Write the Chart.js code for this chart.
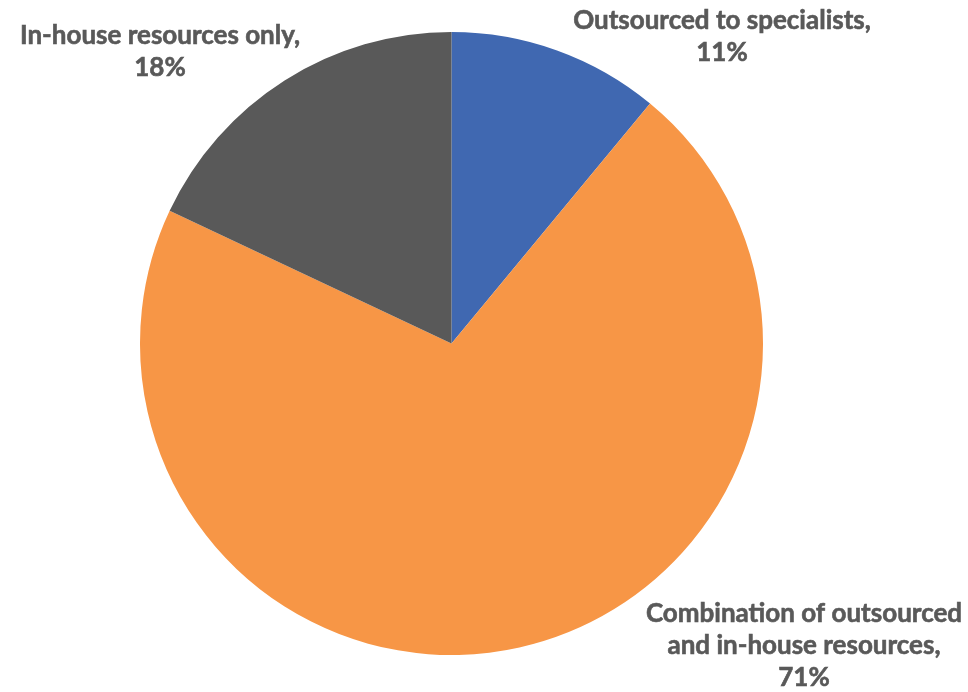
<!DOCTYPE html>
<html>
<head>
<meta charset="utf-8">
<script src="https://cdn.jsdelivr.net/npm/chart.js@4/dist/chart.umd.min.js"></script>
<style>
html,body{margin:0;padding:0;background:#fff;}
#wrap{width:968px;height:692px;position:relative;}
</style>
</head>
<body>
<div id="wrap"><canvas id="c" width="968" height="692"></canvas></div>
<script>
const categories = ["Outsourced to specialists", "Combination of outsourced and in-house resources", "In-house resources only"];
const values = [11, 71, 18];
const valueLabels = ["11%", "71%", "18%"];
const labelLines = [
  ["Outsourced to specialists,", "11%"],
  ["Combination of outsourced", "and in-house resources,", "71%"],
  ["In-house resources only,", "18%"]
];
const colors = ["#4068B1", "#F79646", "#595959"];

// label placement (layout only): centre x and first-line y
const labelPos = [
  {x: 722, y: 21},
  {x: 804, y: 614},
  {x: 160, y: 36}
];

const labelPlugin = {
  id: 'sliceLabels',
  afterDatasetsDraw(chart) {
    const ctx = chart.ctx;
    ctx.save();
    ctx.fillStyle = '#595959';
    ctx.font = 'bold 26px Lato, "Open Sans", sans-serif';
    ctx.textAlign = 'center';
    ctx.textBaseline = 'middle';
    ctx.strokeStyle = '#595959';
    ctx.lineWidth = 0.6;
    labelLines.forEach((lines, i) => {
      const p = labelPos[i];
      lines.forEach((t, j) => {
        ctx.fillText(t, p.x, p.y + j * 32);
        ctx.strokeText(t, p.x, p.y + j * 32);
      });
    });
    ctx.restore();
  }
};

new Chart(document.getElementById('c'), {
  type: 'pie',
  data: {
    labels: categories,
    datasets: [{
      data: values,
      backgroundColor: colors,
      borderWidth: 0
    }]
  },
  options: {
    responsive: false,
    animation: false,
    layout: { padding: { left: 140, right: 205, top: 32, bottom: 37 } },
    plugins: {
      legend: { display: false },
      tooltip: { enabled: false }
    }
  },
  plugins: [labelPlugin]
});
</script>
</body>
</html>
